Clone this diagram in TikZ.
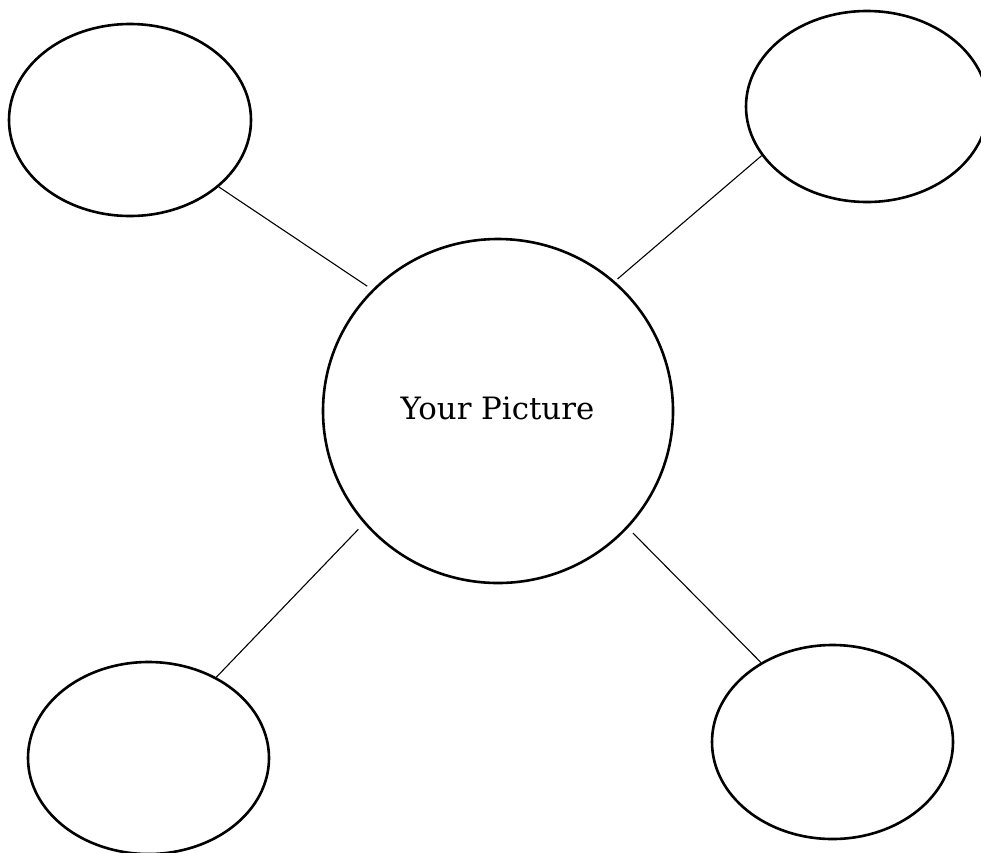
\documentclass[tikz,border=0pt]{standalone}
\usepackage{fontspec}
\setmainfont{DejaVu Serif}
\usetikzlibrary{shapes.geometric}
\tikzset{
  bubble/.style={draw=black, line width=2.6pt, ellipse, inner sep=0pt},
  link/.style={draw=black, line width=1.1pt},
  caption/.style={font=\fontsize{30.8}{36}\selectfont, inner sep=0pt, anchor=base}
}
\begin{document}
\begin{tikzpicture}[x=1pt,y=-1pt]
\useasboundingbox (0,0) rectangle (981,852);
\node[bubble, minimum width=350pt, minimum height=344pt] (c) at (498,411) {};
\node[caption] (t) at (497.5,419) {Your Picture};
\node[bubble, minimum width=242pt, minimum height=192pt] (tl) at (130,120) {};
\node[bubble, minimum width=242pt, minimum height=191pt] (tr) at (867,106.5) {};
\node[bubble, minimum width=241pt, minimum height=192pt] (bl) at (148.5,758) {};
\node[bubble, minimum width=241pt, minimum height=194pt] (br) at (832.5,742) {};
\draw[link, shorten >=6pt] (tl.-37.6) -- (c.136.5);
\draw[link, shorten >=3.5pt] (tr.205.9) -- (c.48);
\draw[link, shorten >=8pt] (bl.50) -- (c.220.8);
\draw[link, shorten >=7pt] (br.132.9) -- (c.-42.6);
\end{tikzpicture}
\end{document}
